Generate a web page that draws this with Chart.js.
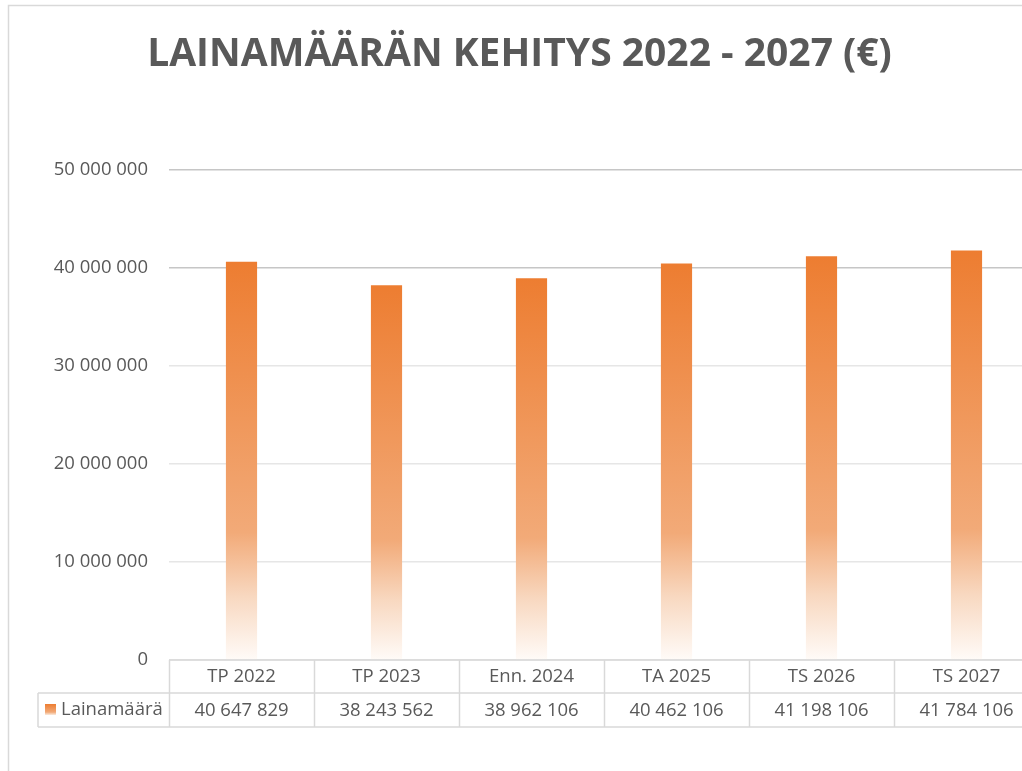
<!DOCTYPE html>
<html>
<head>
<meta charset="utf-8">
<script src="https://cdn.jsdelivr.net/npm/chart.js@4.4.1/dist/chart.umd.min.js"></script>
<style>
  html, body { margin: 0; padding: 0; background: #ffffff; overflow: hidden; }
  #wrap { position: relative; width: 1045px; height: 771px; }
</style>
</head>
<body>
<div id="wrap"><canvas id="c"></canvas></div>
<script>
const chartTitle = 'LAINAMÄÄRÄN KEHITYS 2022 - 2027 (€)';
const seriesName = 'Lainamäärä';
const categories = ['TP 2022', 'TP 2023', 'Enn. 2024', 'TA 2025', 'TS 2026', 'TS 2027'];
const lainamaara = [40647829, 38243562, 38962106, 40462106, 41198106, 41784106];
const yTickValues = [0, 10000000, 20000000, 30000000, 40000000, 50000000];
const yTickLabels = ['0', '10 000 000', '20 000 000', '30 000 000', '40 000 000', '50 000 000'];

const TEXT = '#595959';
const LINE = '#d9d9d9';
const FONT = '"Open Sans", "Noto Sans", sans-serif';

function fmt(v) { return String(v).replace(/\B(?=(\d{3})+(?!\d))/g, ' '); }

function barGradient(c, top, bottom) {
  const g = c.createLinearGradient(0, top, 0, bottom);
  g.addColorStop(0, 'rgb(237,125,49)');
  g.addColorStop(0.68, 'rgb(242,170,120)');
  g.addColorStop(0.84, 'rgb(248,216,192)');
  g.addColorStop(1, 'rgb(255,251,248)');
  return g;
}

const tablePlugin = {
  id: 'tablePlugin',
  beforeDraw(chart) {
    const c = chart.ctx;
    c.save();
    c.strokeStyle = LINE;
    c.lineWidth = 1.5;
    c.beginPath();
    c.moveTo(8.5, chart.height);
    c.lineTo(8.5, 5.5);
    c.lineTo(chart.width, 5.5);
    c.stroke();
    c.restore();
  },
  afterDraw(chart) {
    const c = chart.ctx;
    const xs = chart.scales.x;
    const area = chart.chartArea;
    const n = categories.length;
    const w = (area.right - area.left) / n;
    const r0 = area.bottom, r1 = area.bottom + 33, r2 = area.bottom + 67;
    const legLeft = 38;
    c.save();
    c.strokeStyle = LINE;
    c.lineWidth = 1.5;
    c.beginPath();
    c.moveTo(area.left, r0); c.lineTo(area.right, r0);
    c.moveTo(legLeft, r1); c.lineTo(area.right, r1);
    c.moveTo(legLeft, r2); c.lineTo(area.right, r2);
    c.moveTo(legLeft, r1); c.lineTo(legLeft, r2);
    for (let i = 0; i <= n; i++) {
      const x = Math.round(xs.getPixelForValue(i) - w / 2) + 0.5;
      c.moveTo(x, r0); c.lineTo(x, r2);
    }
    c.stroke();
    c.fillStyle = TEXT;
    c.font = '18.5px ' + FONT;
    c.textAlign = 'center';
    c.textBaseline = 'middle';
    for (let i = 0; i < n; i++) {
      const cx = xs.getPixelForValue(i);
      c.fillText(categories[i], cx, (r0 + r1) / 2);
      c.fillText(fmt(lainamaara[i]), cx, (r1 + r2) / 2 + 1);
    }
    // legend key
    const ky = (r1 + r2) / 2;
    c.fillStyle = barGradient(c, ky - 6, ky + 6);
    c.fillRect(45, ky - 6, 11, 11);
    c.fillStyle = TEXT;
    c.textAlign = 'left';
    c.fillText(seriesName, 61, ky);
    c.restore();
  }
};

new Chart(document.getElementById('c'), {
  type: 'bar',
  data: {
    labels: categories,
    datasets: [{
      label: seriesName,
      data: lainamaara,
      categoryPercentage: 1,
      barPercentage: 0.215,
      borderWidth: 0,
      backgroundColor: (ctx) => {
        const chart = ctx.chart;
        if (!chart.chartArea || ctx.type !== 'data') return 'rgb(237,125,49)';
        const y = chart.scales.y;
        return barGradient(chart.ctx, y.getPixelForValue(ctx.raw), y.getPixelForValue(0));
      }
    }]
  },
  options: {
    responsive: true,
    maintainAspectRatio: false,
    animation: false,
    layout: { padding: { left: 0, right: 6, top: 0, bottom: 111 } },
    plugins: {
      legend: { display: false },
      tooltip: { enabled: false },
      title: {
        display: true,
        text: chartTitle,
        color: TEXT,
        font: { family: FONT, size: 39, weight: 'bold' },
        padding: { top: 31, bottom: 92.2 }
      }
    },
    scales: {
      x: { display: false },
      y: {
        min: 0,
        max: 50000000,
        afterFit(scale) { scale.width = 169; },
        afterBuildTicks(scale) { scale.ticks = yTickValues.map(v => ({ value: v })); },
        border: { display: false },
        grid: {
          drawTicks: false,
          lineWidth: 1.5,
          color: (ctx) => (ctx.tick && ctx.tick.value >= 40000000) ? '#c6c6c6' : '#e6e6e6'
        },
        ticks: {
          padding: 21,
          color: TEXT,
          font: { family: FONT, size: 18.5 },
          callback: (v, i) => yTickLabels[i]
        }
      }
    }
  },
  plugins: [tablePlugin]
});
</script>
</body>
</html>
